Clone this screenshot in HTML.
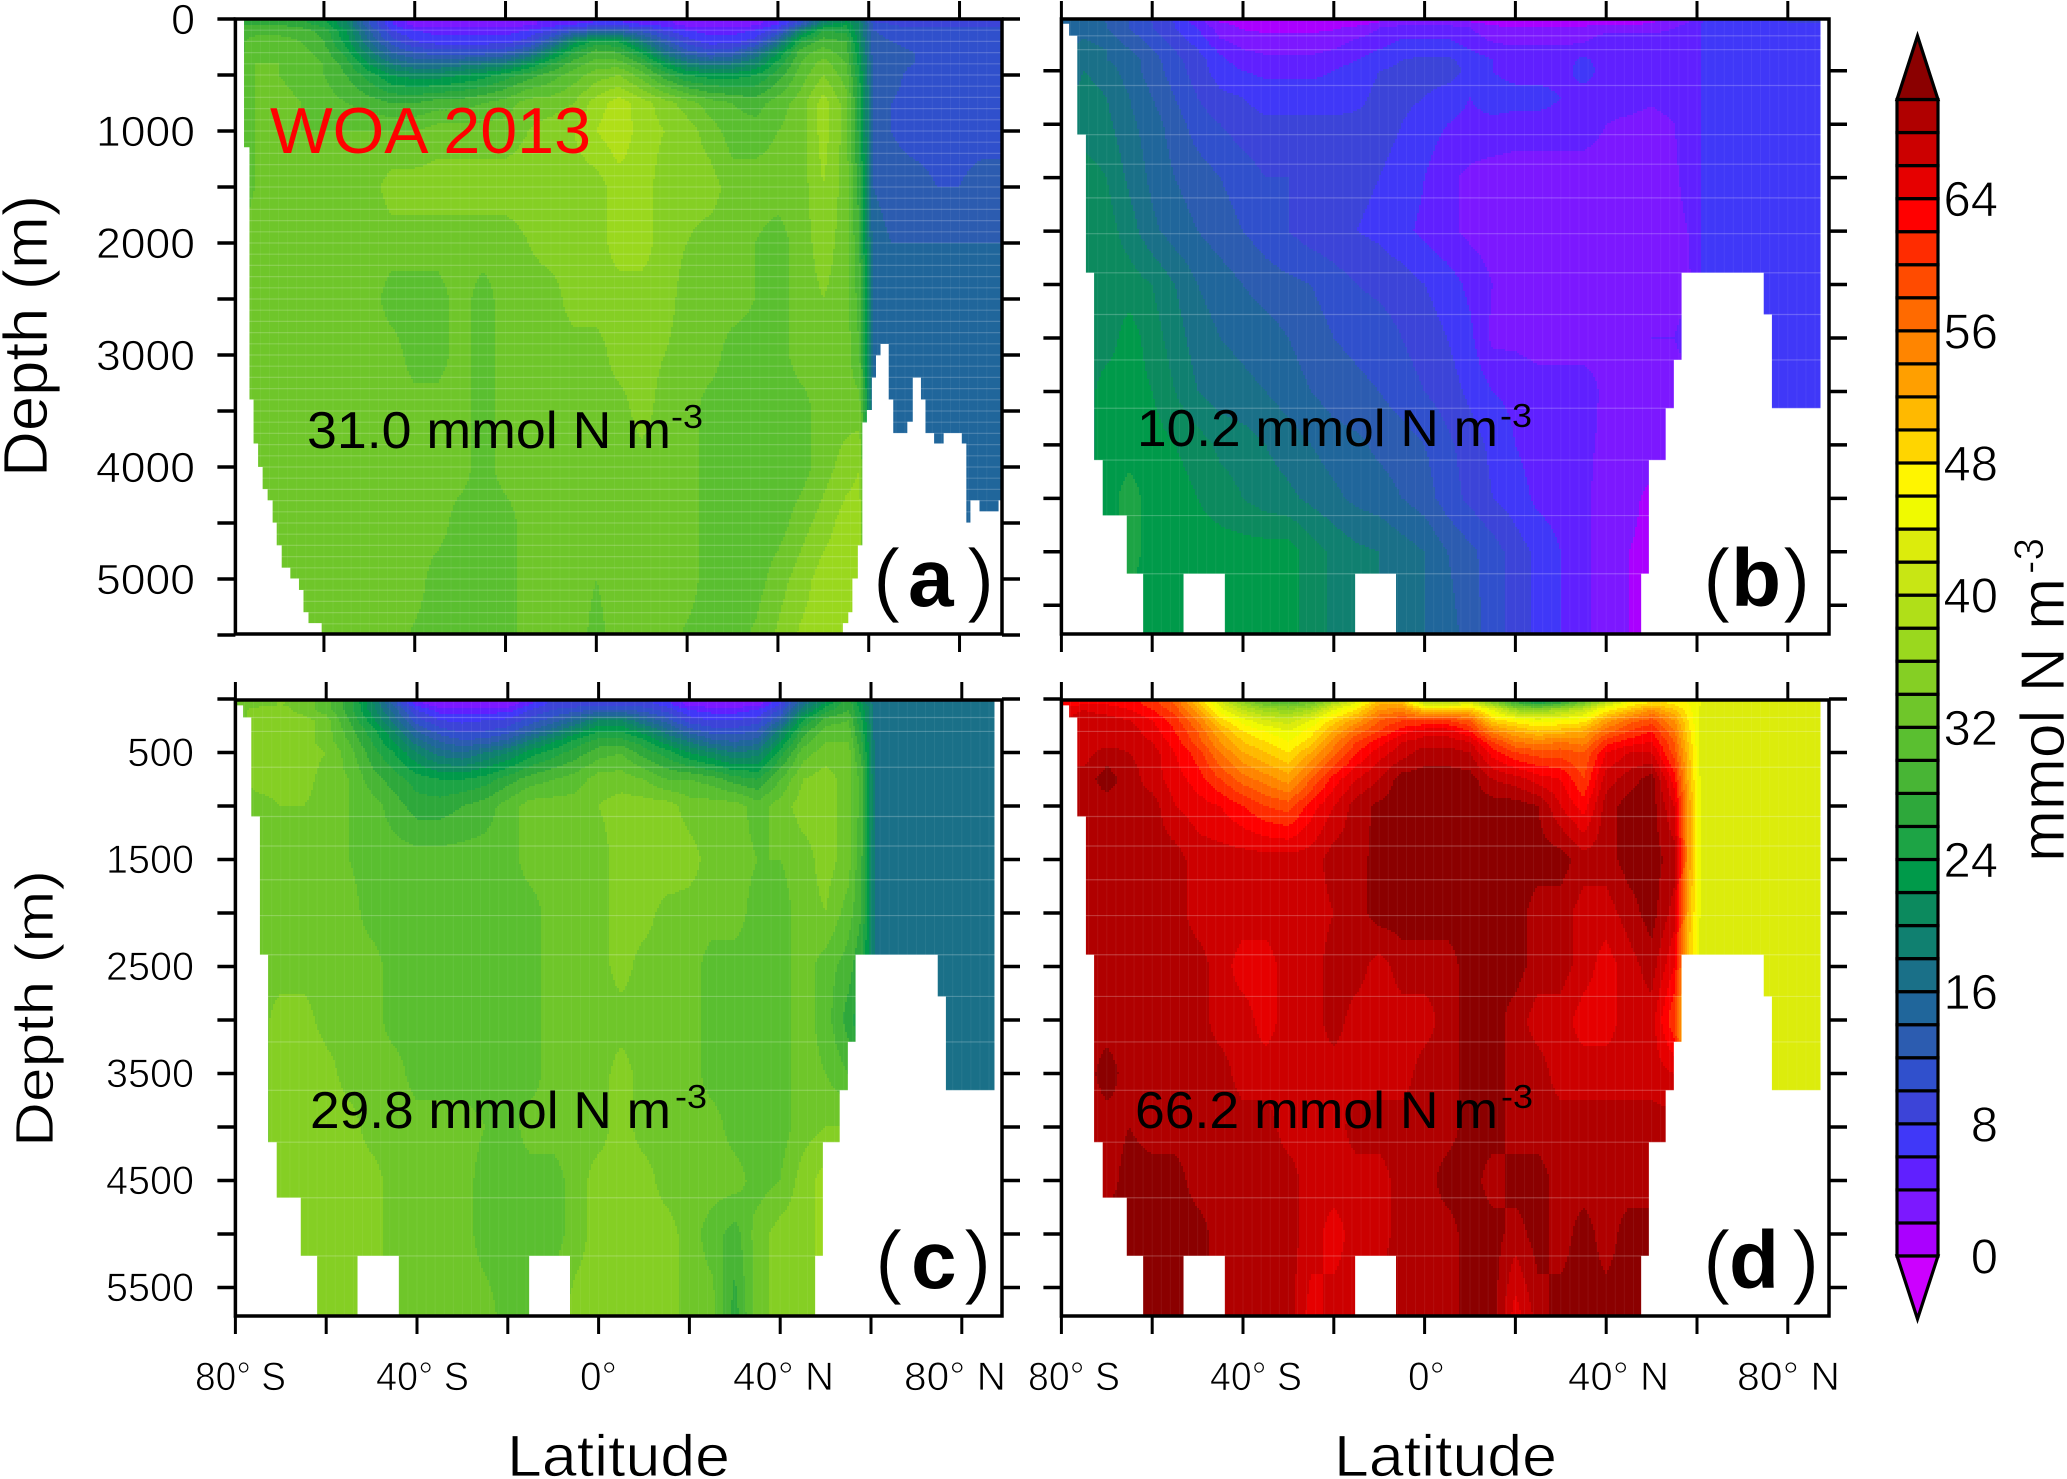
<!DOCTYPE html>
<html>
<head>
<meta charset="utf-8">
<title>Ocean nitrate sections</title>
<style>
html,body{margin:0;padding:0;background:#fff;}
svg{display:block;font-family:"Liberation Sans",sans-serif;}
.thin{stroke:#fff;stroke-width:0.8px;}
</style>
</head>
<body>
<svg id="fig" xmlns="http://www.w3.org/2000/svg" width="2067" height="1479" viewBox="0 0 2067 1479">
<rect x="0" y="0" width="2067" height="1479" fill="#fff"/>
<g id="panels"></g>
<g id="colorbar"></g>

<g fill="#000">
<text x="270" y="153" font-size="65" fill="#f00" textLength="321" lengthAdjust="spacingAndGlyphs">WOA 2013</text>

<text x="307" y="448" font-size="52" textLength="364" lengthAdjust="spacingAndGlyphs">31.0 mmol N m</text>
<text x="671" y="428" font-size="33" textLength="32" lengthAdjust="spacingAndGlyphs">-3</text>
<text x="1137" y="446" font-size="52" textLength="361" lengthAdjust="spacingAndGlyphs">10.2 mmol N m</text>
<text x="1500" y="427" font-size="33" textLength="32" lengthAdjust="spacingAndGlyphs">-3</text>
<text x="310" y="1128" font-size="52" textLength="361" lengthAdjust="spacingAndGlyphs">29.8 mmol N m</text>
<text x="675" y="1108" font-size="33" textLength="32" lengthAdjust="spacingAndGlyphs">-3</text>
<text x="1135" y="1128" font-size="52" textLength="363" lengthAdjust="spacingAndGlyphs">66.2 mmol N m</text>
<text x="1501" y="1108" font-size="33" textLength="32" lengthAdjust="spacingAndGlyphs">-3</text>

<g font-size="82">
<text class="thin" x="873" y="606">(</text>
<text x="908" y="606" font-weight="bold">a</text>
<text class="thin" x="967" y="606">)</text>
</g>
<g font-size="82">
<text class="thin" x="1703" y="606">(</text>
<text x="1731" y="606" font-weight="bold">b</text>
<text class="thin" x="1783" y="606">)</text>
</g>
<g font-size="82">
<text class="thin" x="875" y="1288">(</text>
<text x="911" y="1288" font-weight="bold">c</text>
<text class="thin" x="964" y="1288">)</text>
</g>
<g font-size="82">
<text class="thin" x="1703" y="1288">(</text>
<text x="1729" y="1288" font-weight="bold">d</text>
<text class="thin" x="1792" y="1288">)</text>
</g>

<g class="thin">
<text transform="translate(47,477) rotate(-90)" font-size="62" textLength="282" lengthAdjust="spacingAndGlyphs">Depth (m)</text>
<text transform="translate(53,1147) rotate(-90)" font-size="54" textLength="277" lengthAdjust="spacingAndGlyphs">Depth (m)</text>

<g font-size="43" text-anchor="end">
<text x="195" y="34">0</text>
<text x="195" y="146" textLength="99" lengthAdjust="spacingAndGlyphs">1000</text>
<text x="195" y="258" textLength="99" lengthAdjust="spacingAndGlyphs">2000</text>
<text x="195" y="370" textLength="99" lengthAdjust="spacingAndGlyphs">3000</text>
<text x="195" y="482" textLength="99" lengthAdjust="spacingAndGlyphs">4000</text>
<text x="195" y="594" textLength="99" lengthAdjust="spacingAndGlyphs">5000</text>
</g>
<g font-size="40" text-anchor="end">
<text x="194" y="766">500</text>
<text x="194" y="873" textLength="88" lengthAdjust="spacingAndGlyphs">1500</text>
<text x="194" y="980" textLength="88" lengthAdjust="spacingAndGlyphs">2500</text>
<text x="194" y="1087" textLength="88" lengthAdjust="spacingAndGlyphs">3500</text>
<text x="194" y="1194" textLength="88" lengthAdjust="spacingAndGlyphs">4500</text>
<text x="194" y="1301" textLength="88" lengthAdjust="spacingAndGlyphs">5500</text>
</g>

<g font-size="40">
<text x="195" y="1390" textLength="91" lengthAdjust="spacingAndGlyphs">80° S</text>
<text x="376" y="1390" textLength="93" lengthAdjust="spacingAndGlyphs">40° S</text>
<text x="580" y="1390" textLength="37" lengthAdjust="spacingAndGlyphs">0°</text>
<text x="733" y="1390" textLength="101" lengthAdjust="spacingAndGlyphs">40° N</text>
<text x="904" y="1390" textLength="102" lengthAdjust="spacingAndGlyphs">80° N</text>
</g>
<g font-size="40">
<text x="1028" y="1390" textLength="92" lengthAdjust="spacingAndGlyphs">80° S</text>
<text x="1210" y="1390" textLength="92" lengthAdjust="spacingAndGlyphs">40° S</text>
<text x="1408" y="1390" textLength="37" lengthAdjust="spacingAndGlyphs">0°</text>
<text x="1568" y="1390" textLength="101" lengthAdjust="spacingAndGlyphs">40° N</text>
<text x="1737" y="1390" textLength="103" lengthAdjust="spacingAndGlyphs">80° N</text>
</g>

<text x="507" y="1476" font-size="58" textLength="223" lengthAdjust="spacingAndGlyphs">Latitude</text>
<text x="1334" y="1476" font-size="58" textLength="223" lengthAdjust="spacingAndGlyphs">Latitude</text>

<text transform="translate(2064,862) rotate(-90)" font-size="62" textLength="284" lengthAdjust="spacingAndGlyphs">mmol N m</text>
<text transform="translate(2043,574) rotate(-90)" font-size="42" textLength="36" lengthAdjust="spacingAndGlyphs">-3</text>
</g>
</g>
</svg>

<script>
// Grid coordinates of the sections
const lats=[-80,-75,-70,-65,-60,-55,-50,-45,-40,-35,-30,-25,-20,-15,-10,-5,0,5,10,15,20,25,30,35,40,45,50,55,58,61,65,70,75,80,85,90];
const depths=[0,50,100,200,300,400,500,750,1000,1500,2000,2500,3000,3500,4000,4500,5000,5750];

// Panel (a) WOA 2013
const fieldA=[
[27,27,27,26,24,20,12,6,3,2,2,2,2,3,5,5,5,5,5,4,3,2,2,3,5,10,18,20,18,8,7,7,7,7,7,7],
[28,28,28,27,25,20,12,6,3,3,3,3,3,3.5,5,6,7,7,6,5,3,3,3,3.5,6,12,21,24,20,12,10,9,9,9,9,9],
[29,29,29,29,27,22,14,8,6,5,5,5,5,6,8,11,13,13,11,8,6,5,5,6,9,19,26,25,20,12,11,11,11,11,11,11],
[29,31,31,30,28,23,16,11,8,7,7,7,7,9,14,21,25,24,18,13,9,7,7,9,16,26,29,28,21,13,12,11,11,11,11,11],
[29,31,32,31,29,25,19,14,12,11,11,11,12,15,21,26,29,28,24,17,13,11,12,16,22,29,31,29,22,13,13,12,11,11,11,11],
[29,32,32,31,30,27,22,18,16,16,17,18,19,22,26,29,31,31,28,23,19,17,18,20,25,30,33,30,23,14,13,12,11,11,11,11],
[30,32,32,31,30,28,25,22,21,21,22,23,25,27,29,31,33,34,31,27,24,23,23,24,27,31,34,31,24,14,13,11,11,11,11,11],
[31,32,33,32,31,30,29,28,28,29,29,30,31,33,33,34,37,39,37,35,33,31,30,29,31,33,37,33,25,14,12,11,11,11,11,11],
[31,32,33,32,32,32,32,32,32,33,33,33,33,34,35,36,38,39.5,37,36,35,33,31,31,32,33,37,33,25,14,12,11,11,11,11,11],
[31,32,33,33,33,33,33,35,35,35,35,35,35,35,35,35,35,37,37,35,35,35,33,33,33,33,36,33,27,14,13,13,12,12,13,13],
[31,33,33,33,33,33,33,33,33,33,33,33,33,34,35,35,35,37,37,35,34,33,33,32,31,33,35,33,28,15,14,14,14,14,14,14],
[33,33,33,33,33,33,33,31,31,31,33,31,33,33,33,35,35,35,35,35,33,33,33,32,31,33,34,33,29,15,15,15,15,15,15,15],
[33,33,33,33,33,33,33,33,31,31,33,31,33,33,33,33,33,35,35,34,33,33,31,31,31,33,33,33,30,15,15,15,15,15,15,15],
[33,33,33,33,33,33,33,33,33,33,33,31,33,33,33,33,33,33,35,33,33,31,31,31,31,31,33,33,33,15,15,15,15,15,15,15],
[33,33,33,33,33,33,33,33,33,33,33,31,33,33,33,33,33,33,33,33,33,31,31,31,31,31,33,35,36,15,15,15,15,15,15,15],
[33,33,33,33,33,33,33,33,33,33,31,31,31,33,33,33,33,33,33,33,33,31,31,31,31,33,35,37,37,15,15,15,15,15,15,15],
[33,33,33,33,33,33,33,33,33,31,31,31,31,33,33,33,32,33,33,33,33,31,31,31,33,35,37,37,37,15,15,15,15,15,15,15],
[33,33,33,33,33,33,33,33,31,31,31,31,31,33,33,33,31,33,33,33,31,31,31,33,35,37,37,37,37,15,15,15,15,15,15,15]
];

// Panel (b)
const fieldB=[
[15,15,13,11,9,7,4,1.5,1,1,1,1,1,1,2,3,3,2,2,1,1,1,1,1,1,1,1,2,2,5,6,7,7,8,9,9],
[15,15,14,12,10,8,5,2,1.5,1,1,1,1,1,2,3,3,3,2,1.5,1,1,1,1,1,1,2,3,4,6,7,7,7,8,8,8],
[15,15,14,12,10,8,6,3,1.8,1.5,1.5,1.5,1.8,2.5,4,5,5,5,4,2.5,2,2,2,2.5,3,3,3,4,5,6,7,7,7,7,7,7],
[15,16,15,13,11,9,7,4,3,2.5,2.5,2.5,3,4,5,6,6,6,5,3.5,3,3,3,3.5,5,5,5,5,5,6,7,7,7,7,7,7],
[15,17,16,14,12,10,8,5.5,4,3.5,3.5,3.5,4,5,6,7,7,7,6,5,4.5,4.5,4.5,5,5,5,5,5,5,6,7,7,7,7,7,7],
[16,17,16,15,13,10.5,9,6.5,5,4.5,4.5,4.5,5,6,7,8,8.5,8.5,7,6,5,5,5,6.5,5,5,5,5,5,6,7,7,7,7,7,7],
[16,18,17,15,13,11,9,7,6,5.5,5.5,5.5,6,7,8,8.5,9,9,7.5,6,5,5,5,7,5,5,5,5,5,6,7,7,7,7,7,7],
[17,19,18,16,14,12,10,8.5,8,7,7,7,7,7.5,8.5,8.5,8,7,6,7,7,7,6,5,5,5,4.5,5,5,6,7,7,7,7,7,7],
[17,19,18.5,16.5,15,13,11,10,9,8.5,8.5,8.5,8.5,8.5,8.5,8,7,6,5.5,5.5,5,5,5,5,4,3.5,3,4,5,6,7,7,7,7,7,7],
[19,21,20,17.5,15.5,14,13,12,11,10,10,9.5,9,8.5,8,7.5,6,4.5,3.5,3,3,3,3,3,3,3,3,3.5,5,6,7,7,7,7,7,7],
[19,21.5,21,19,16.5,15,14,13,12,11,10,9,8.5,8,7.5,6.5,5.5,4.5,3.5,3,3,3,3,3,3,3,3,3,4,6,7,7,7,7,7,7],
[21,21,21,21,20,18,16,15,14,13,12.5,12,11,10,9.5,9,8,7,5.5,4,3,3,3,3,3,3,3,3,3.5,6,7,7,7,7,7,7],
[21,21,21,23,21,19,17,16,15.5,15,14,13,12,11.5,11,10,9,8,6.5,3.5,3.5,3,3,3,3.5,3.5,4,4,5,6,7,7,7,7,7,7],
[21,21,23,23,22,20,18,17,16.5,16,15,14,13,12.5,12,11,10,9,7.5,6,5.5,5,5,5,3.5,3,3,3,3,6,7,7,7,7,7,7],
[21,21,23,23,23,22,21,19.5,19,18,17,16,15,14.5,13.5,13,12,10.5,9,7.5,6,5,5,4.5,3.5,3,3,3,3,6,7,7,7,7,7,7],
[21,21,23,25,23,23,22,21,20,19,18.5,17.5,16.5,15.5,15,14,13,11,9.5,8,7,5.5,5,4.5,3,2.5,1.5,1.5,3,6,7,7,7,7,7,7],
[23,23,23,25,23,23,23,23,23,23,23,21,19.5,18.5,18,17,16,14,12.5,11,9,7.5,6,4.5,3,2,1.5,1.5,3,6,7,7,7,7,7,7],
[23,23,23,23,23,23,23,23,23,23,23,21,19.5,19,18,17,16,15,13,11,9,7.5,6,4.5,3,2,1.5,1.5,3,6,7,7,7,7,7,7]
];

// Panel (c)
const fieldC=[
[31,33,35,33,31,27,20,12,3,1.5,1.5,1.5,1.5,5,8,8,8,8,8,6,2,1.5,1.5,1.5,8,14,20,26,20,15,15,16,14,15,16,16],
[33,33,34,33,31,27,21,13,5,2.5,2.5,2.5,2.5,6,9,9,9,9,9,7,3,2.5,2.5,3,8,17,23,28,22,17,17,17,17,17,17,17],
[33,35,35,33,31,27,21,15,8,5,5,5,5,8,10,11,12,12,11,9,6,5,5,6,10,19,25,28,23,17,17,17,17,17,17,17],
[33,35,35,35,33,28,23,17,11,8,7.5,8,8.5,11,13,16,20,20,16,13,9,8,8,9,14,24,29,30,24,17,17,17,17,17,17,17],
[33,35,35,35,33,29,25,20,14,11,9.5,10,11,14,17,21,24,24,21,17,13,11,11,12,19,27,31,31,25,17,17,17,17,17,17,17],
[33,35,35,35,33,30,26,22,17,14,12.5,13,15,19,22,25,27,27,25,21,18,15,14,15,22,29,32,32,26,17,17,17,17,17,17,17],
[33,35,35,35,34,31,27,24,20,17,16,18,20,23,25,27,29,30,27,25,22,20,18,19,25,31,33,33,27,17,17,17,17,17,17,17],
[33,35,35,35,33,32,29,27,25,24,24,25,27,29,30,31,33,33,32,30,30,29,27,26,30,34,35,33,29,17,17,17,17,17,17,17],
[33,33,34,34,33,32,31,29,27,27,28,29,31,33,33,33,34,35,35,35,33,33,33,31,33,35,35,33,29,17,17,17,17,17,17,17],
[33,33,33,33,33,32,31,31,31,31,31,31,31,33,33,33,33,35,36,36,35,33,33,32,32,33,35,33,28,17,17,17,17,17,17,17],
[33,33,33,33,33,33,31,31,31,31,31,31,31,31,33,33,33,35,35,33,33,33,33,31,31,33,34,31,28,17,17,17,17,17,17,17],
[33,33,33,33,33,33,33,31,31,31,31,31,31,31,33,33,33,35,33,33,33,31,31,31,31,33,31,29,26,17,17,17,17,17,17,17],
[33,33,35,35,33,33,33,31,31,31,31,31,31,31,33,33,33,33,33,33,33,31,31,31,31,33,31,27,24,17,17,17,17,17,17,17],
[33,33,35,36,35,33,33,33,31,31,31,31,31,31,33,33,33,35,33,33,33,31,31,31,31,33,32,30,26,17,17,17,17,17,17,17],
[33,33,35,36,35,35,33,33,33,33,33,32,31,33,33,33,33,35,33,33,33,33,31,31,31,33,34,34,34,17,17,17,17,17,17,17],
[33,33,35,35,35,35,35,33,33,33,33,31,31,31,31,33,35,35,35,33,33,33,33,31,32,35,37,37,37,17,17,17,17,17,17,17],
[35,35,35,35,35,35,35,33,33,33,33,31,31,31,31,33,35,35,35,35,33,31,29,33,35,35,37,37,37,17,17,17,17,17,17,17],
[35,35,35,35,35,35,35,33,33,33,33,33,31,31,33,35,35,35,35,35,33,33,27,33,35,35,37,37,37,17,17,17,17,17,17,17]
];

// Panel (d)
const fieldD=[
[63,63,63,63,61,57,50,41,34,30,29,30,35,42,50,50,38,38,40,32,25,19,22,30,35,44,47,47,46,44,43,43,43,43,43,43],
[63,64,64,63,61,58,51,43,37,33,32,34,40,45,52,52,42,42,44,37,30,27,30,35,42,47,49,48,46,44,43,43,43,43,43,43],
[65,66,65,64,62,59,53,45,40,37,36,38,44,48,54,55,50,50,50,44,37,36,38,41,47,50,54,50,47,43,43,43,43,43,43,43],
[66,67,67,66,64,61,56,49,45,42,41,44,49,53,58,60,60,60,58,49,47,45,46,47,53,57,59,54,48,43,43,43,43,43,43,43],
[67,67,67,67,65,62,58,52,48,46,44,47,52,57,60,63,65,65,62,55,52,50,51,52,57,60,62,56,49,43,43,43,43,43,43,43],
[67,67,67,67,66,63,59,54,50,48,46,49,55,60,63,66,67,67,66,60,56,55,56,55,61,63,64,58,50,43,43,43,43,43,43,43],
[67,67,69,68,67,64,61,56,52,50,48,52,57,62,65,67,69,69,68,63,60,59,59,58,64,66,66,59,51,43,43,43,43,43,43,43],
[69,69,71,69,67,65,63,60,57,55,53,58,63,66,68,71,71,71,71,68,67,65,64,60,67,69,71,63,52,43,43,43,43,43,43,43],
[69,69,69,69,69,66,65,64,62,60,59,63,66,69,70.5,71,71,71,71,71,71,70,66,63,69,71,71,66,54,43,43,43,43,43,43,43],
[69,69,69,69,69,69,67,67,67,67,67,67,69,69,71,71,71,71,71,71,71,71,71,69,69,71,71,69,54,43,43,43,43,43,43,43],
[69,69,69,69,69,69,67,67,67,67,67,67,68,69,71,71,71,71,71,71,71,69,69,67,67,69,71,67,52,43,43,43,43,43,43,43],
[69,69,69,69,69,69,69,67,65,65,67,67,69,69,67,69,69,69,71,71,71,69,69,67,65,67,69,64,50,43,43,43,43,43,43,43],
[69,69,69,69,69,69,69,67,67,65,67,67,69,67,67,67,67,69,71,71,69,67,67,65,65,67,67,60,46,43,43,43,43,43,43,43],
[69,69,71,69,69,69,69,69,67,67,67,67,67,67,67,67,69,69,71,71,69,69,67,67,67,67,67,66,50,43,43,43,43,43,43,43],
[69,69,69,70,69,69,69,69,69,69,67,67,67,69,69,69,69,69,71,71,69,69,69,69,69,69,69,69,69,43,43,43,43,43,43,43],
[69,69,69,71,71,71,69,69,69,69,69,67,67,67,67,69,69,71,71,69,71,71,69,69,69,69,69,69,69,43,43,43,43,43,43,43],
[69,69,71,71,71,71,71,69,69,69,69,67,65,67,67,69,69,69,71,71,69,71,69,71,69,71,71,71,71,43,43,43,43,43,43,43],
[69,69,71,71,71,71,71,69,69,69,69,65,67,67,69,69,69,69,71,71,65,69,71,71,71,71,71,71,71,43,43,43,43,43,43,43]
];

// Colour scale: one colour per 2 mmol band, from 0-2 up to 68-70
const bandColors=["#aa00ff","#7c18ff","#6020ff","#4038f8","#3c44d8","#3050cc","#2c5cb0","#20669b","#1a7088","#108070","#0c8a5e","#009a4a","#1da445","#2ea83b","#48b535","#5abf30","#6fc62a","#85cf24","#9ad81e","#b0df18","#c8e614","#dcec0c","#f0fa00","#fff500","#ffd500","#ffb900","#ff9f00","#ff8500","#ff6a00","#ff4b00","#ff2c00","#ff0000","#e60000","#cc0000","#b00000"];
const overColor="#8b0000";
const underColor="#cc00ff";
const bandWidth=2;
const colorbarTicks=[0,8,16,24,32,40,48,56,64];

// White land / no-data outlines as [lat, depth] vertices
const woaMasks=[
[[-81,0],[-77.6,0],[-77.6,1145],[-76.4,1145],[-76.4,3397],[-75.5,3397],[-75.5,3790],[-74.5,3790],[-74.5,4000],[-73.5,4000],[-73.5,4197],[-72.4,4197],[-72.4,4298],[-71.3,4298],[-71.3,4497],[-70.4,4497],[-70.4,4700],[-69.3,4700],[-69.3,4899],[-67.4,4899],[-67.4,4996],[-65.5,4996],[-65.5,5098],[-64.5,5098],[-64.5,5297],[-63.4,5297],[-63.4,5394],[-60.5,5394],[-60.5,5500],[-81,5500]],
[[54.3,5500],[54.3,5394],[55.5,5394],[55.5,5297],[56.4,5297],[56.4,4996],[57.6,4996],[57.6,4700],[58.6,4700],[58.6,3603],[59.6,3603],[59.6,3491],[60.7,3491],[60.7,3202],[61.6,3202],[61.6,3003],[62.6,3003],[62.6,2902],[64.4,2902],[64.4,3397],[65.4,3397],[65.4,3697],[68.5,3697],[68.5,3596],[69.7,3596],[69.7,3202],[71.5,3202],[71.5,3397],[72.5,3397],[72.5,3697],[74.4,3697],[74.4,3790],[76.5,3790],[76.5,3697],[80.5,3697],[80.5,3790],[81.5,3790],[81.5,4497],[82.4,4497],[82.4,4298],[84.4,4298],[84.4,4396],[88.6,4396],[88.6,4298],[89.5,4298],[89.5,5500]]
];
const modelMasks=[
[[-81,0],[-79.7,0],[-79.7,60],[-78.3,60],[-78.3,173],[-76.5,173],[-76.5,1098],[-74.6,1098],[-74.6,2390],[-72.8,2390],[-72.8,4142],[-70.9,4142],[-70.9,4661],[-65.6,4661],[-65.6,5205],[-62,5205],[-62,5800],[-81,5800]],
[[-53.1,5205],[-44,5205],[-44,5800],[-53.1,5800]],
[[-15.3,5205],[-6.3,5205],[-6.3,5800],[-15.3,5800]],
[[91,0],[87.2,0],[87.2,3657],[76.5,3657],[76.5,2780],[74.7,2780],[74.7,2390],[56.6,2390],[56.6,3205],[54.9,3205],[54.9,3657],[53.1,3657],[53.1,4142],[49.4,4142],[49.4,5205],[47.7,5205],[47.7,5800],[91,5800]]
];

// Model layer interfaces
const modelLayers=[173,303,638,1098,1374,1689,2024,2390,2780,3205,3657,4142,4661,5205];
const woaLayers=[100,200,300,400,500,600,700,800,900,1000,1100,1200,1300,1400,1500,1600,1700,1800,1900,2000,2100,2200,2300,2400,2500,2600,2700,2800,2900,3000,3100,3200,3300,3400,3500,3600,3700,3800,3900,4000,4100,4200,4300,4400,4500,4600,4700,4800,4900,5000,5100,5200,5300,5400];

const latTicks=[-80,-60,-40,-20,0,20,40,60,80];
const depthTicks=[0,500,1000,1500,2000,2500,3000,3500,4000,4500,5000,5500];

const NS='http://www.w3.org/2000/svg';
const panelsRoot=document.getElementById('panels');
const barRoot=document.getElementById('colorbar');

function makeNode(tag,parent){
  const el=document.createElementNS(NS,tag);
  parent.appendChild(el);
  return el;
}
function bandColor(v){
  if(v<0) return underColor;
  const i=Math.floor(v/bandWidth);
  if(i>=bandColors.length) return overColor;
  return bandColors[i];
}
function bracket(arr,v){
  let i=0;
  while(i<arr.length-2 && arr[i+1]<v) i++;
  const t=Math.max(0,Math.min(1,(v-arr[i])/(arr[i+1]-arr[i])));
  return [i,t];
}
function sample(field,lat,dep){
  const a=bracket(lats,lat);
  const b=bracket(depths,dep);
  const r0=field[b[0]],r1=field[b[0]+1];
  const v0=r0[a[0]]*(1-a[1])+r0[a[0]+1]*a[1];
  const v1=r1[a[0]]*(1-a[1])+r1[a[0]+1]*a[1];
  return v0*(1-b[1])+v1*b[1];
}

function drawPanel(p){
  const g=makeNode('g',panelsRoot);
  
  
  const xScale=function(lat){return p.x0+(lat-p.lat0)*p.kx;};
  const yScale=function(d){return p.yZero+d*p.ky;};
  const latAt=function(px){return (px-p.x0)/p.kx+p.lat0;};
  const depthAt=function(py){return Math.max(0,(py-p.yZero)/p.ky);};

  const fieldG=makeNode('g',g);
  
  
  fieldG.setAttribute('shape-rendering','crispEdges');
  const stepX=2,stepY=2;
  const xa=Math.floor(p.x0),xb=Math.ceil(p.x1),ya=Math.floor(p.y0),yb=Math.ceil(p.y1);
  for(let py=ya;py<yb;py+=stepY){
    const dep=depthAt(py+stepY/2);
    let runStart=xa,runColor=null;
    for(let px=xa;;px+=stepX){
      const atEnd=px>=xb;
      const c=atEnd?null:bandColor(sample(p.field,latAt(px+stepX/2),dep));
      if(c!==runColor){
        if(runColor){
          const cell=makeNode('rect',fieldG);
          
          
          cell.setAttribute('x',runStart);
          cell.setAttribute('y',py);
          cell.setAttribute('width',Math.min(px,xb)-runStart);
          cell.setAttribute('height',stepY);
          cell.setAttribute('fill',runColor);
        }
        runStart=px;runColor=c;
      }
      if(atEnd) break;
    }
  }

  for(const d of p.layers){
    const seam=makeNode('line',g);
    
    
    seam.setAttribute('x1',p.x0);
    seam.setAttribute('x2',p.x1);
    seam.setAttribute('y1',yScale(d));
    seam.setAttribute('y2',yScale(d));
    seam.setAttribute('stroke','#fff');
    seam.setAttribute('stroke-opacity',p.seamOpacity);
    seam.setAttribute('stroke-width','1.2');
  }
  for(let lat=-78;lat<88;lat+=2){
    const mer=makeNode('line',g);
    
    
    mer.setAttribute('x1',xScale(lat));
    mer.setAttribute('x2',xScale(lat));
    mer.setAttribute('y1',p.y0);
    mer.setAttribute('y2',p.y1);
    mer.setAttribute('stroke','#fff');
    mer.setAttribute('stroke-opacity','0.06');
    mer.setAttribute('stroke-width','1');
  }

  for(const poly of p.masks){
    const mask=makeNode('polygon',g);
    
    
    mask.setAttribute('fill','#fff');
    mask.setAttribute('points',poly.map(function(v){
      return Math.min(p.x1,Math.max(p.x0,xScale(v[0])))+','+Math.min(p.y1,Math.max(p.y0,yScale(v[1])));
    }).join(' '));
  }

  const frame=makeNode('rect',g);
  
  
  frame.setAttribute('x',p.x0);
  frame.setAttribute('y',p.y0);
  frame.setAttribute('width',p.x1-p.x0);
  frame.setAttribute('height',p.y1-p.y0);
  frame.setAttribute('fill','none');
  frame.setAttribute('stroke','#000');
  frame.setAttribute('stroke-width','3.5');

  for(const lat of latTicks){
    const tx=xScale(lat);
    if(tx<p.x0-1||(p.id==='a'&&lat===-80)) continue;
    const t1=makeNode('line',g);
    
    
    t1.setAttribute('x1',tx);t1.setAttribute('x2',tx);
    t1.setAttribute('y1',p.y0-18);t1.setAttribute('y2',p.y0);
    t1.setAttribute('stroke','#000');t1.setAttribute('stroke-width','3');
    const t2=makeNode('line',g);
    
    
    t2.setAttribute('x1',tx);t2.setAttribute('x2',tx);
    t2.setAttribute('y1',p.y1);t2.setAttribute('y2',p.y1+18);
    t2.setAttribute('stroke','#000');t2.setAttribute('stroke-width','3');
  }
  for(const d of depthTicks){
    const ty=yScale(d);
    if(ty<p.y0-1||ty>p.y1+2) continue;
    const t3=makeNode('line',g);
    
    
    t3.setAttribute('x1',p.x0-18);t3.setAttribute('x2',p.x0);
    t3.setAttribute('y1',ty);t3.setAttribute('y2',ty);
    t3.setAttribute('stroke','#000');t3.setAttribute('stroke-width','3.5');
    const t4=makeNode('line',g);
    
    
    t4.setAttribute('x1',p.x1);t4.setAttribute('x2',p.x1+18);
    t4.setAttribute('y1',ty);t4.setAttribute('y2',ty);
    t4.setAttribute('stroke','#000');t4.setAttribute('stroke-width','3.5');
  }
}

drawPanel({id:'a',x0:235.4,x1:1002,y0:19,y1:634,lat0:-79.5,kx:4.54,yZero:19,ky:0.112,field:fieldA,masks:woaMasks,layers:woaLayers,seamOpacity:0.18});
drawPanel({id:'b',x0:1061.4,x1:1829,y0:19,y1:634,lat0:-80,kx:4.54,yZero:17.3,ky:0.1069,field:fieldB,masks:modelMasks,layers:modelLayers,seamOpacity:0.22});
drawPanel({id:'c',x0:235.4,x1:1002,y0:700,y1:1316,lat0:-80,kx:4.54,yZero:699,ky:0.107,field:fieldC,masks:modelMasks,layers:modelLayers,seamOpacity:0.22});
drawPanel({id:'d',x0:1061.4,x1:1829,y0:700,y1:1316,lat0:-80,kx:4.54,yZero:699,ky:0.107,field:fieldD,masks:modelMasks,layers:modelLayers,seamOpacity:0.22});

// Colour bar
(function(){
  const bx0=1897,bx1=1938,by0=1256,perUnit=(1256-99.5)/70;
  const barY=function(v){return by0-v*perUnit;};
  bandColors.forEach(function(c,i){
    const box=makeNode('rect',barRoot);
    
    
    box.setAttribute('x',bx0);
    box.setAttribute('y',barY((i+1)*bandWidth));
    box.setAttribute('width',bx1-bx0);
    box.setAttribute('height',barY(i*bandWidth)-barY((i+1)*bandWidth));
    box.setAttribute('fill',c);
    box.setAttribute('stroke','#000');
    box.setAttribute('stroke-width','3.2');
  });
  const top=makeNode('polygon',barRoot);
  
  
  top.setAttribute('points',bx0+','+barY(70)+' '+(bx0+bx1)/2+',36 '+bx1+','+barY(70));
  top.setAttribute('fill',overColor);
  top.setAttribute('stroke','#000');
  top.setAttribute('stroke-width','3.2');
  const bot=makeNode('polygon',barRoot);
  
  
  bot.setAttribute('points',bx0+','+by0+' '+(bx0+bx1)/2+',1319 '+bx1+','+by0);
  bot.setAttribute('fill',underColor);
  bot.setAttribute('stroke','#000');
  bot.setAttribute('stroke-width','3.2');
  colorbarTicks.forEach(function(v){
    const label=makeNode('text',barRoot);
    
    
    label.setAttribute('class','thin');
    label.setAttribute('x',1998);
    label.setAttribute('y',barY(v)+17.5);
    label.setAttribute('font-size','49');
    label.setAttribute('text-anchor','end');
    label.textContent=String(v);
  });
})();
</script>
</body>
</html>
